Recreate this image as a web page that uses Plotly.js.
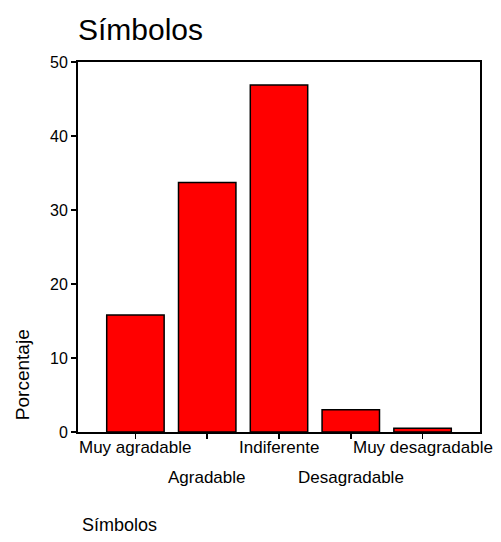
<!DOCTYPE html>
<html>
<head>
<meta charset="utf-8">
<script src="https://cdn.plot.ly/plotly-3.0.1.min.js"></script>
<style>body{margin:0;background:#fff}</style>
</head>
<body>
<div id="chart" style="width:501px;height:542px"></div>
<script>
const categories = ["Muy agradable", "Agradable", "Indiferente", "Desagradable", "Muy desagradable"];
const percentages = [15.8, 33.7, 46.9, 3.0, 0.5];
const yTicks = [0, 10, 20, 30, 40, 50];
const chartTitle = "Símbolos";
const yTitle = "Porcentaje";
const xTitle = "Símbolos";

const FONT = "Liberation Sans, Arial, sans-serif";

const annotations = categories.map((c, i) => ({
  x: c, xref: "x", yref: "paper",
  y: 0, yshift: i % 2 === 0 ? -15 : -45,
  text: c, showarrow: false,
  xanchor: "center", yanchor: "middle",
  font: {family: FONT, size: 17, color: "#000"}
}));
annotations.push({
  xref: "paper", yref: "paper", x: -0.139, y: 0.154,
  text: yTitle, textangle: -90, showarrow: false,
  xanchor: "center", yanchor: "middle",
  font: {family: FONT, size: 19, color: "#000"}
});
annotations.push({
  xref: "paper", yref: "paper", x: 0.005, y: 0, yshift: -93,
  text: xTitle, showarrow: false,
  xanchor: "left", yanchor: "middle",
  font: {family: FONT, size: 18, color: "#000"}
});

const data = [{
  type: "bar",
  x: categories,
  y: percentages,
  width: 0.8,
  marker: {color: "#ff0000", line: {color: "#000", width: 1.5}},
  hoverinfo: "none"
}];

const layout = {
  width: 501, height: 542,
  margin: {l: 78, r: 21, t: 62, b: 110},
  paper_bgcolor: "#fff", plot_bgcolor: "#fff",
  showlegend: false,
  title: {text: chartTitle, x: 0, xanchor: "left", xref: "paper", y: 0.945, yanchor: "middle",
          font: {family: FONT, size: 30, color: "#000"}},
  xaxis: {
    type: "category", range: [-0.8, 4.8],
    showticklabels: false, ticks: "outside", ticklen: 5, tickwidth: 1.5, tickcolor: "#000",
    showline: true, linecolor: "#000", linewidth: 2, mirror: true,
    showgrid: false, zeroline: false, fixedrange: true
  },
  yaxis: {
    range: [0, 50], tickvals: yTicks, ticktext: yTicks.map(String),
    ticks: "outside", ticklen: 5, tickwidth: 1.5, tickcolor: "#000",
    tickfont: {family: FONT, size: 16, color: "#000"},
    showline: true, linecolor: "#000", linewidth: 2, mirror: true,
    showgrid: false, zeroline: false, fixedrange: true
  },
  annotations: annotations,
  bargap: 0.2
};

Plotly.newPlot("chart", data, layout, {displayModeBar: false, staticPlot: true});
</script>
</body>
</html>
